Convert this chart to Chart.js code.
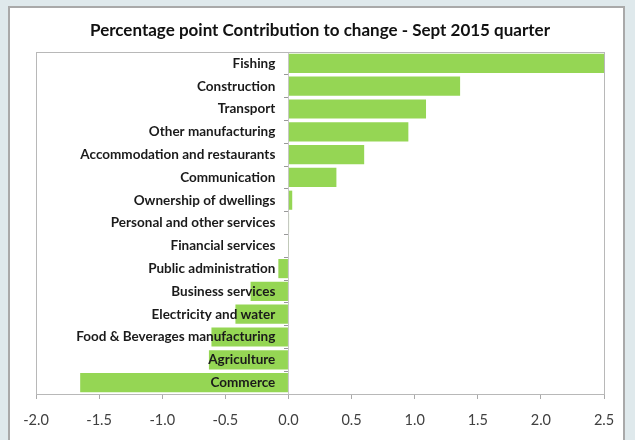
<!DOCTYPE html>
<html>
<head>
<meta charset="utf-8">
<script src="https://cdn.jsdelivr.net/npm/chart.js@4"></script>
<style>
  body { margin: 0; background: #dfe9ec; }
  #frame {
    position: absolute; left: 8px; top: 6px; width: 613px; height: 460px;
    background: #fff; border: 2px solid #a9a9a9;
  }
  #wrap { position: absolute; left: 0; top: 0; width: 635px; height: 440px; }
</style>
</head>
<body>
<div id="frame"></div>
<div id="wrap"><canvas id="myChart" width="635" height="440"></canvas></div>
<script>
const sectors = [
    'Fishing', 'Construction', 'Transport', 'Other manufacturing',
    'Accommodation and restaurants', 'Communication', 'Ownership of dwellings',
    'Personal and other services', 'Financial services', 'Public administration',
    'Business services', 'Electricity and water', 'Food & Beverages manufacturing',
    'Agriculture', 'Commerce'
];
const contribution = [
    2.5, 1.36, 1.09, 0.95, 0.60, 0.38, 0.03,
    0.005, 0.003, -0.08, -0.30, -0.42, -0.61, -0.63, -1.65
];
const xTicks = [-2.0, -1.5, -1.0, -0.5, 0.0, 0.5, 1.0, 1.5, 2.0, 2.5];

// thin grey box round the plot area
const plotBorder = {
    id: 'plotBorder',
    afterDraw(chart) {
        const a = chart.chartArea;
        const ctx = chart.ctx;
        ctx.save();
        ctx.strokeStyle = '#b8b8b8';
        ctx.lineWidth = 1;
        ctx.strokeRect(Math.round(a.left) + 0.5, Math.round(a.top) + 0.5,
            Math.round(a.right - a.left), Math.round(a.bottom - a.top));
        ctx.restore();
    }
};

const ctx = document.getElementById('myChart').getContext('2d');
new Chart(ctx, {
    type: 'bar',
    data: {
        labels: sectors,
        datasets: [{
            data: contribution,
            backgroundColor: '#95d654',
            borderWidth: 0,
            barPercentage: 0.84,
            categoryPercentage: 1.0
        }]
    },
    plugins: [plotBorder],
    options: {
        indexAxis: 'y',
        responsive: false,
        animation: false,
        layout: { padding: { left: 36, right: 31, top: 0, bottom: 0 } },
        plugins: {
            legend: { display: false },
            tooltip: { enabled: false },
            title: {
                display: true,
                text: 'Percentage point Contribution to change - Sept 2015 quarter',
                color: '#111',
                font: { family: 'Lato', size: 17, weight: 'bold', lineHeight: 1.2 },
                padding: { top: 20, bottom: 11.6 }
            }
        },
        scales: {
            x: {
                type: 'linear',
                min: -2,
                max: 2.5,
                afterBuildTicks(scale) {
                    scale.ticks = xTicks.map(v => ({ value: v }));
                },
                afterFit(scale) { scale.height = 46; },
                ticks: {
                    callback: v => v.toFixed(1),
                    color: '#404040',
                    font: { family: 'Lato', size: 14.5 },
                    padding: 13,
                    maxRotation: 0
                },
                grid: { drawOnChartArea: false, drawTicks: true, tickLength: 5, color: '#aaa' },
                border: { color: '#aaa' }
            },
            y: {
                type: 'category',
                position: { x: 0 },
                ticks: {
                    z: 1,
                    color: '#1a1a1a',
                    font: { family: 'Lato', size: 13.5, weight: 'bold' },
                    // axis sits at x = 0, so keep the names clear of the line
                    callback(value) { return this.getLabelForValue(value) + '    '; },
                    autoSkip: false
                },
                grid: { drawOnChartArea: false, drawTicks: true, tickLength: 4, offset: true, color: '#999' },
                border: { color: '#c8c8c8' }
            }
        }
    }
});
</script>
</body>
</html>
